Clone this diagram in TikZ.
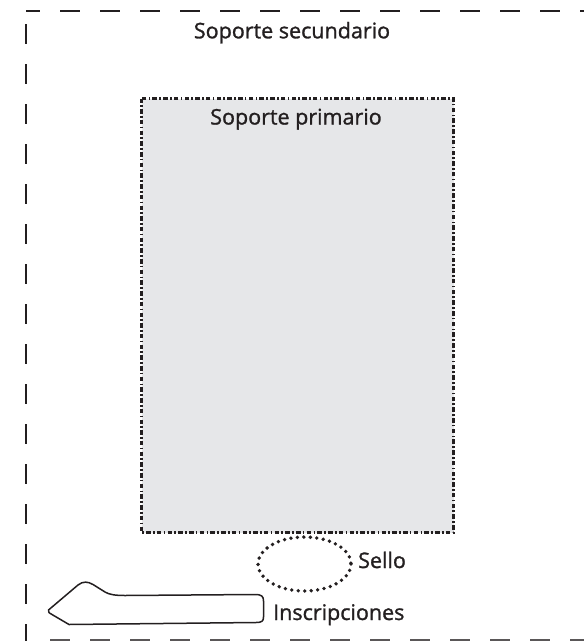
\documentclass[tikz,border=0pt]{standalone}
\usepackage{fontspec}
\setmainfont{Open Sans}
\newfontfamily\lblfamily[FakeBold=1.2]{Open Sans}
\begin{document}
\begin{tikzpicture}[x=1pt,y=-1pt,
  lbl/.style={inner sep=0pt, text=txtc, font=\lblfamily\fontsize{21.5}{26}\selectfont},
  outerdash/.style={draw=txtc, line width=2.9pt, dash pattern=on 20pt off 20pt},
  primbox/.style={draw=txtc, fill=primfill, line width=2.9pt, dash pattern=on 4.5pt off 2.3pt on 1.6pt off 2.3pt},
  sealdots/.style={draw=txtc, line width=3.8pt, line cap=round, dash pattern=on 0pt off 6.5pt},
  inscr/.style={draw=txtc, line width=1.5pt, line join=round}
]
\definecolor{txtc}{HTML}{231F20}
\definecolor{primfill}{HTML}{E6E7E9}
\useasboundingbox (0,0) rectangle (584,641);
\clip (0,0) rectangle (584,641);
% secondary support (outer dashed frame)
\coordinate (tl) at (26,11);
\coordinate (tr) at (590,11);
\coordinate (lt) at (26,24);
\coordinate (lb) at (26,645);
\coordinate (bl) at (50,640.5);
\coordinate (br) at (590,640.5);
\draw[outerdash, dash phase=6pt] (tl) -- (tr);
\draw[outerdash] (lt) -- (lb);
\draw[outerdash, draw=txtc!75] (bl) -- (br);
% primary support
\draw[primbox] (141.5,98.5) rectangle (453.5,532.5);
% seal
\draw[sealdots] (304.5,564) ellipse [x radius=46.5, y radius=27];
% inscription shape
\draw[inscr] (48.5,610) -- (78,585) .. controls (83,581) and (88,581.5) .. (93,584.5)
  -- (105,592) .. controls (109,594.5) and (115,595.5) .. (125,595.5)
  -- (255,594.5) .. controls (262,594.5) and (263.5,596.5) .. (263.5,601)
  -- (263.5,617) .. controls (263.5,621) and (262,622.5) .. (256,622.5)
  -- (69,624.5) -- (52,614.5) .. controls (48.5,612.5) .. cycle;
% labels
\node[lbl, anchor=base] (sec) at (292,38.3) {Soporte secundario};
\node[lbl, anchor=base] (prim) at (296,124.5) {Soporte primario};
\node[lbl, anchor=base west] (sello) at (358,568) {Sello};
\node[lbl, anchor=base west] (insc) at (273,620) {Inscripciones};
\end{tikzpicture}
\end{document}
